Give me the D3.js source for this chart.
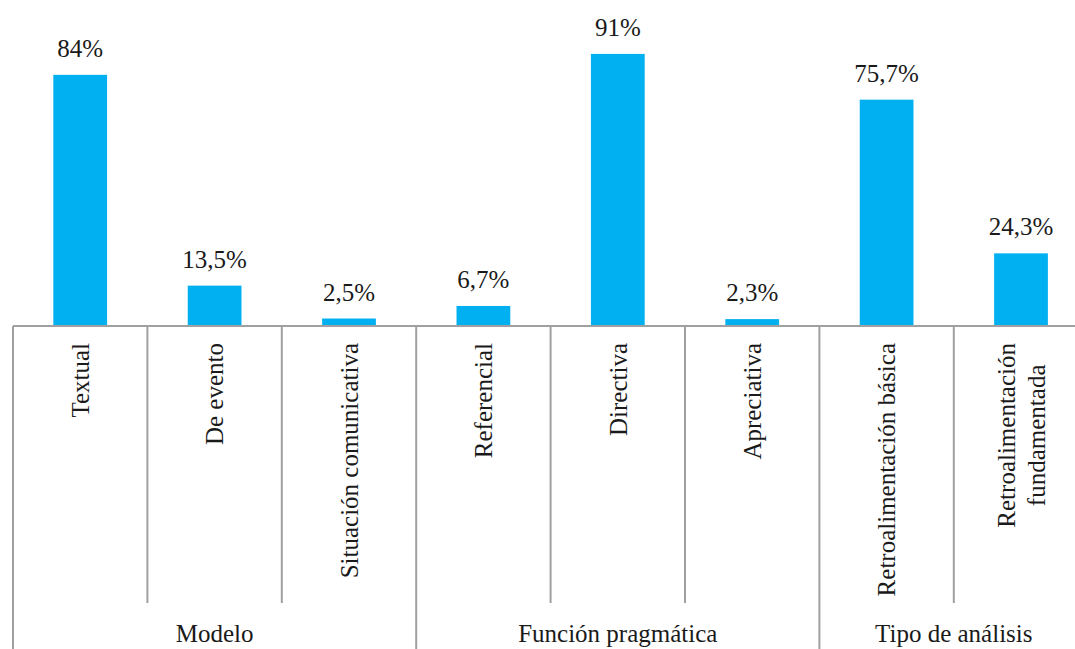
<!DOCTYPE html>
<html>
<head>
<meta charset="utf-8">
<script src="https://cdn.jsdelivr.net/npm/d3@7"></script>
<style>
  body { margin: 0; background: #fff; }
  svg text { font-family: 'Liberation Serif', 'Times New Roman', Tinos !important; }
</style>
</head>
<body>
<div id="chart"></div>
<script>
// categories, values and groups
const categories = ['Textual', 'De evento', 'Situación comunicativa', 'Referencial', 'Directiva',
  'Apreciativa', 'Retroalimentación básica', 'Retroalimentación\nfundamentada'];
const values = [84, 13.5, 2.5, 6.7, 91, 2.3, 75.7, 24.3];
const valueLabels = ['84%', '13,5%', '2,5%', '6,7%', '91%', '2,3%', '75,7%', '24,3%'];
const groups = ['Modelo', 'Función pragmática', 'Tipo de análisis'];
const groupSizes = [3, 3, 2];

const width = 1075;
const height = 649;
const baseY = 326;
const fontSize = 25;
const font = 'Liberation Serif';
const lineColor = '#a0a0a0';

const svg = d3.select('#chart').append('svg')
  .attr('width', width)
  .attr('height', height);

const x = d3.scaleBand()
  .domain(d3.range(categories.length))
  .range([13, 13 + 134.4 * categories.length])
  .padding(0);

const y = d3.scaleLinear()
  .domain([0, 100])
  .range([baseY, baseY - 299]);

const barW = x.bandwidth() * 0.4;

// bars
svg.selectAll('.bar')
  .data(values)
  .enter().append('rect')
  .attr('class', 'bar')
  .attr('x', (d, i) => x(i) + (x.bandwidth() - barW) / 2)
  .attr('y', d => y(d))
  .attr('width', barW)
  .attr('height', d => baseY - y(d))
  .attr('fill', '#00b0f0');

// value labels
svg.selectAll('.val')
  .data(values)
  .enter().append('text')
  .attr('class', 'val')
  .attr('x', (d, i) => x(i) + x.bandwidth() / 2)
  .attr('y', d => y(d) - 18)
  .attr('text-anchor', 'middle')
  .attr('font-family', font)
  .attr('font-size', fontSize)
  .attr('fill', '#1a1a1a')
  .text((d, i) => valueLabels[i]);

// axis line
svg.append('line')
  .attr('x1', x.range()[0]).attr('x2', width)
  .attr('y1', baseY).attr('y2', baseY)
  .attr('stroke', lineColor).attr('stroke-width', 2);

// separators between categories; group edges run to the bottom
const groupEdges = [0];
groupSizes.forEach(s => groupEdges.push(groupEdges[groupEdges.length - 1] + s));
d3.range(categories.length + 1).forEach(i => {
  const xx = i < categories.length ? x(i) : x.range()[1];
  const isEdge = groupEdges.includes(i);
  svg.append('line')
    .attr('x1', xx).attr('x2', xx)
    .attr('y1', baseY).attr('y2', isEdge ? height : 603)
    .attr('stroke', lineColor).attr('stroke-width', 2);
});

// rotated category labels
categories.forEach((c, i) => {
  const lines = c.split('\n');
  const cx = x(i) + x.bandwidth() / 2;
  const g = svg.append('g');
  const texts = lines.map(ln => g.append('text')
    .attr('font-family', font)
    .attr('font-size', fontSize)
    .attr('text-anchor', 'middle')
    .attr('dy', '0.35em')
    .attr('fill', '#1a1a1a')
    .text(ln));
  const maxLen = d3.max(texts, t => t.node().getComputedTextLength());
  texts.forEach((t, k) => {
    const lx = cx + (k - (lines.length - 1) / 2) * 30;
    const ly = 343 + maxLen / 2;
    t.attr('transform', `translate(${lx},${ly}) rotate(-90)`);
  });
});

// group labels
groups.forEach((gname, j) => {
  const x0 = x(groupEdges[j]);
  const x1 = x(groupEdges[j + 1] - 1) + x.bandwidth();
  svg.append('text')
    .attr('x', (x0 + x1) / 2)
    .attr('y', 642)
    .attr('text-anchor', 'middle')
    .attr('font-family', font)
    .attr('font-size', fontSize)
    .attr('fill', '#1a1a1a')
    .text(gname);
});
</script>
</body>
</html>
